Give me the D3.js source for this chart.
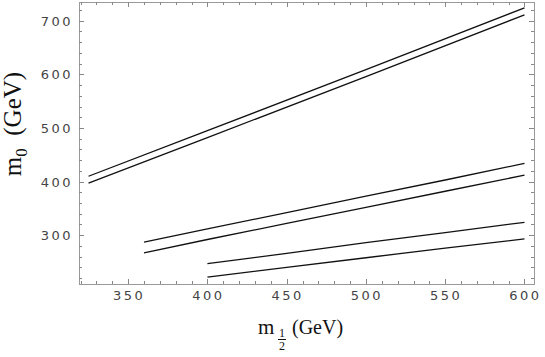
<!DOCTYPE html>
<html>
<head>
<meta charset="utf-8">
<script src="https://cdn.jsdelivr.net/npm/d3@7"></script>
<style>
  body { margin: 0; background: white; }
  .tick-label { font-family: "DejaVu Sans", sans-serif; font-size: 13px; fill: #444; letter-spacing: 2.5px; }
  .axis-title { font-family: "Liberation Serif", "DejaVu Serif", serif; fill: #111; }
</style>
</head>
<body>
<script>
// curve data (m1/2, m0) in GeV
const m12_pair1 = [325, 400, 500, 600];
const upper1 = [410, 495, 609, 724];
const lower1 = [397, 482, 596, 711];

const m12_pair2 = [360, 400, 450, 500, 550, 600];
const upper2 = [287, 312, 342, 373, 403, 434];
const lower2 = [267, 292, 322, 352, 382, 412];

const m12_pair3 = [400, 450, 500, 550, 600];
const upper3 = [247, 266, 286, 305, 324];
const lower3 = [222, 240, 258, 276, 293];

const xTicks = [350, 400, 450, 500, 550, 600];
const yTicks = [300, 400, 500, 600, 700];

const width = 545, height = 357;
const pLeft = 79, pRight = 534, pTop = 2, pBottom = 284;

const svg = d3.select('body').append('svg')
    .attr('width', width)
    .attr('height', height);

const xScale = d3.scaleLinear().domain([319, 606]).range([pLeft, pRight]);
const yScale = d3.scaleLinear().domain([209, 735]).range([pBottom, pTop]);

// frame
svg.append('rect')
    .attr('x', pLeft + 0.5)
    .attr('y', pTop + 0.5)
    .attr('width', pRight - pLeft)
    .attr('height', pBottom - pTop)
    .style('fill', 'none')
    .style('stroke', '#999')
    .style('stroke-width', 1);

const xMinor = d3.range(320, 606, 10).filter(v => v % 50 !== 0);
const yMinor = d3.range(220, 735, 20).filter(v => v % 100 !== 0);

// ticks on all four sides, pointing inward
function drawTicks(g, scale, vals, len, orient) {
  vals.forEach(v => {
    const p = Math.round(scale(v)) + 0.5;
    if (orient === 'bottom') g.append('line').attr('x1', p).attr('x2', p).attr('y1', pBottom).attr('y2', pBottom - len);
    if (orient === 'top') g.append('line').attr('x1', p).attr('x2', p).attr('y1', pTop).attr('y2', pTop + len);
    if (orient === 'left') g.append('line').attr('y1', p).attr('y2', p).attr('x1', pLeft).attr('x2', pLeft + len);
    if (orient === 'right') g.append('line').attr('y1', p).attr('y2', p).attr('x1', pRight).attr('x2', pRight - len);
  });
}
const tickG = svg.append('g').style('stroke', '#888').style('stroke-width', 1);
['bottom', 'top'].forEach(o => {
  drawTicks(tickG, xScale, xTicks, 5, o);
  drawTicks(tickG, xScale, xMinor, 3, o);
});
['left', 'right'].forEach(o => {
  drawTicks(tickG, yScale, yTicks, 5, o);
  drawTicks(tickG, yScale, yMinor, 3, o);
});

// tick labels
svg.selectAll('.xl').data(xTicks).enter().append('text')
    .attr('class', 'tick-label')
    .attr('x', d => xScale(d) + 1)
    .attr('y', 300)
    .attr('text-anchor', 'middle')
    .text(d => d);

svg.selectAll('.yl').data(yTicks).enter().append('text')
    .attr('class', 'tick-label')
    .attr('x', 73)
    .attr('y', d => yScale(d) + 5)
    .attr('text-anchor', 'end')
    .text(d => d);

// curves
const line = d3.line().x(d => xScale(d[0])).y(d => yScale(d[1]));
const curves = [
  d3.zip(m12_pair1, upper1), d3.zip(m12_pair1, lower1),
  d3.zip(m12_pair2, upper2), d3.zip(m12_pair2, lower2),
  d3.zip(m12_pair3, upper3), d3.zip(m12_pair3, lower3)
];
svg.selectAll('.curve').data(curves).enter().append('path')
    .attr('class', 'curve')
    .attr('d', line)
    .style('fill', 'none')
    .style('stroke', '#111')
    .style('stroke-width', 1.3);

// x axis title: m_{1/2} (GeV)
const xt = svg.append('g').attr('class', 'axis-title');
xt.append('text').attr('x', 258).attr('y', 334).style('font-size', '21px').text('m');
xt.append('text').attr('x', 282).attr('y', 337).attr('text-anchor', 'middle').style('font-size', '12px').text('1');
xt.append('line').attr('x1', 278).attr('x2', 286).attr('y1', 339.5).attr('y2', 339.5).style('stroke', '#111').style('stroke-width', 1);
xt.append('text').attr('x', 282).attr('y', 350).attr('text-anchor', 'middle').style('font-size', '12px').text('2');
xt.append('text').attr('x', 292).attr('y', 334).style('font-size', '20px').text('(GeV)');

// y axis title: m_0 (GeV)
const yt = svg.append('text')
    .attr('class', 'axis-title')
    .attr('transform', 'translate(21, 124) rotate(-90)')
    .attr('text-anchor', 'middle')
    .style('font-size', '25px');
yt.append('tspan').text('m');
yt.append('tspan').attr('dy', 6).style('font-size', '17px').text('0');
yt.append('tspan').attr('dy', -6).text('\u00a0\u00a0(GeV)');
</script>
</body>
</html>
